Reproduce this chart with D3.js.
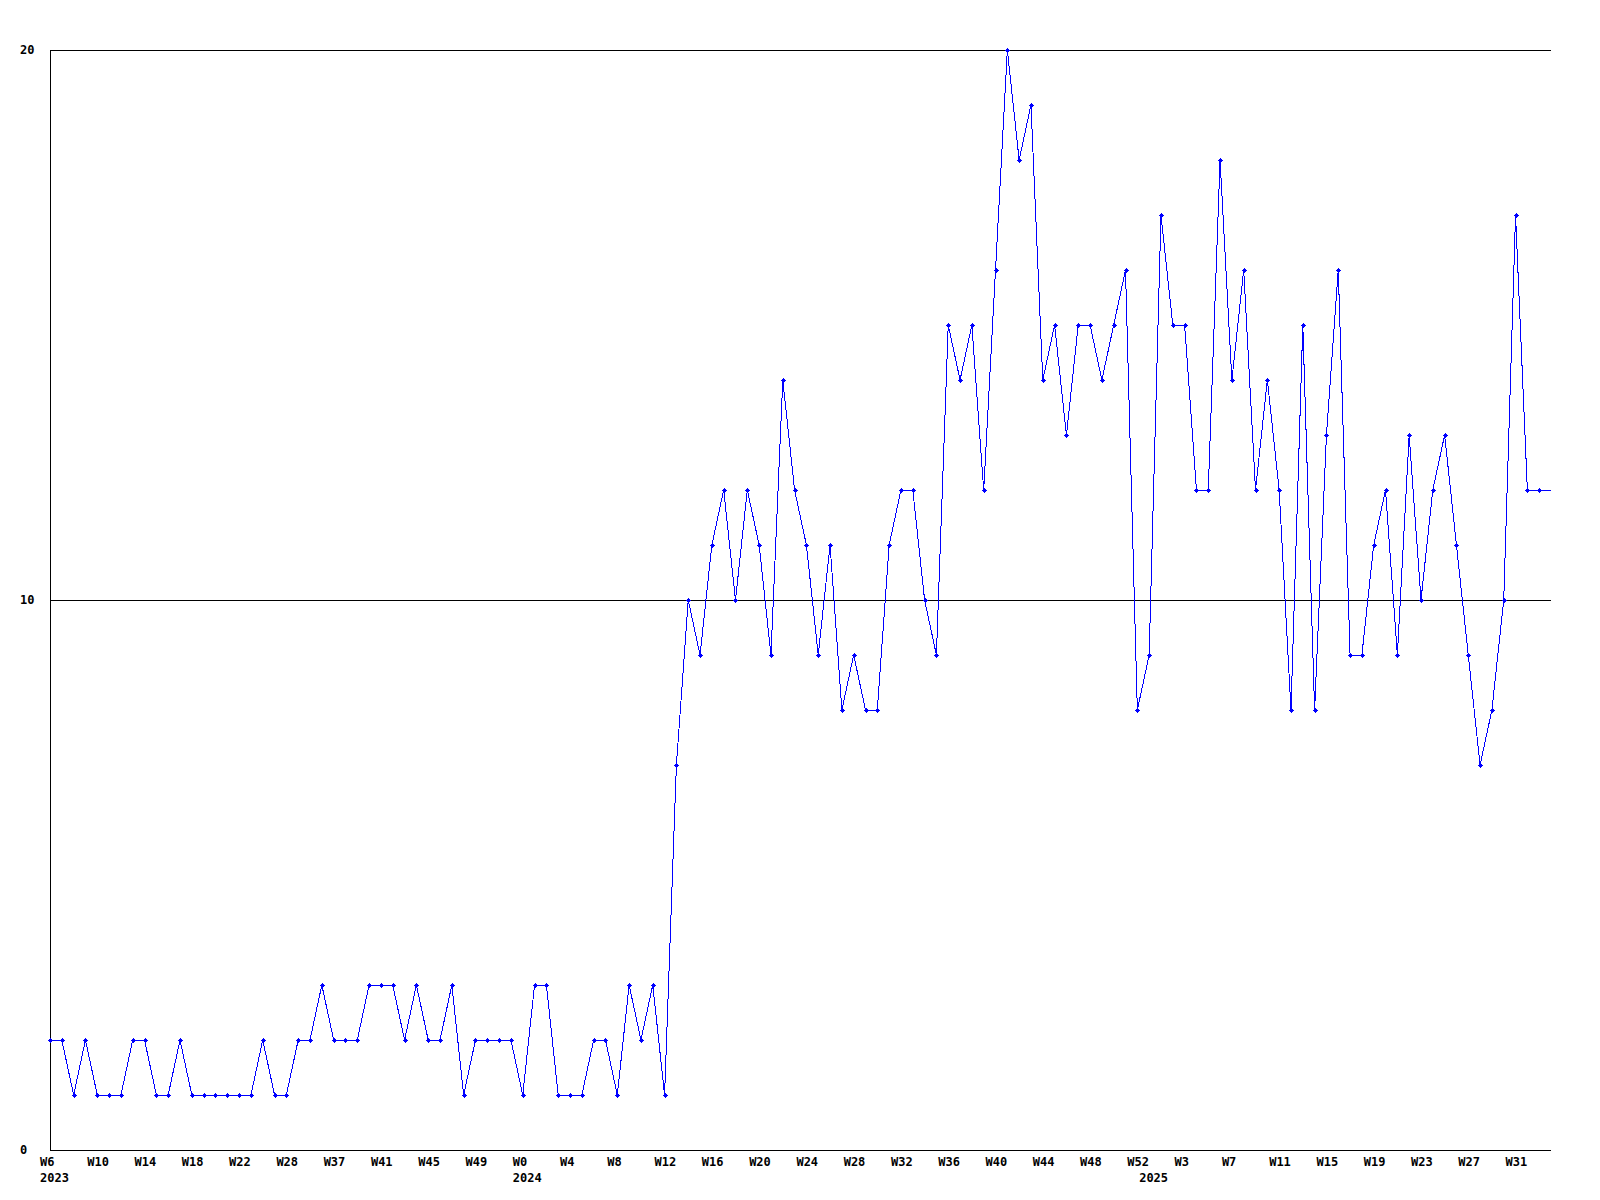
<!DOCTYPE html>
<html>
<head>
<meta charset="utf-8">
<script src="https://cdn.jsdelivr.net/npm/d3@7"></script>
<style>
  html, body { margin: 0; padding: 0; background: #ffffff; }
  svg { display: block; }
  text { font-family: "DejaVu Sans Mono", "Liberation Mono", monospace; font-weight: bold; font-size: 12px; fill: #000; }
</style>
</head>
<body>
<svg id="chart" width="1600" height="1200"></svg>
<script>
// ---- data ----
const weeks = [
  // 2023
  "W6","W7","W8","W9","W10","W11","W12","W13","W14","W15","W16","W17","W18","W19","W20","W21","W22",
  "W24","W25","W27","W28","W30","W33","W35",
  "W37","W38","W39","W40","W41","W42","W43","W44","W45","W46","W47","W48","W49","W50","W51","W52",
  // 2024
  "W0","W1","W2","W3","W4","W5","W6","W7","W8","W9","W10","W11","W12","W13","W14","W15","W16","W17",
  "W18","W19","W20","W21","W22","W23","W24","W25","W26","W27","W28","W29","W30","W31","W32","W33","W34",
  "W35","W36","W37","W38","W39","W40","W41","W42","W43","W44","W45","W46","W47","W48","W49","W50","W51","W52",
  // 2025
  "W0","W1","W2","W3","W4","W5","W6","W7","W8","W9","W10","W11","W12","W13","W14","W15","W16","W17",
  "W18","W19","W20","W21","W22","W23","W24","W25","W26","W27","W28","W29","W30","W31","W32","W33","W34"
];
const years = ["2023", "2024", "2025"];
const values = [
  2,2,1,2,1,1,1,2,2,1, 1,2,1,1,1,1,1,1,2,1, 1,2,2,3,2,2,2,3,3,3, 2,3,2,2,3,1,2,2,2,2,
  1,3,3,1,1,1,2,2,1,3, 2,3,1,
  7,10,9,11,12,10,12,11,9,14, 12,11,9,11,8,9,8,8,11,12, 12,10,9,15,14,15,12,16,20,18,
  19,14,15,13,15,15,14,15,16,8, 9,17,15,15,12,12,18,14,16,12, 14,12,8,15,8,13,16,9,9,11,
  12,9,13,10,12,13,11,9,7,8, 10,17,12,12,12
];
const yTicks = [0, 10, 20];
const tickEvery = 4;

// ---- layout ----
const plotLeft = 50, plotRight = 1551, plotTop = 50, plotBottom = 1150;
const svg = d3.select("#chart");

const x = d3.scaleLinear().domain([0, values.length - 1]).range([plotLeft, plotRight]);
const y = d3.scaleLinear().domain([0, 20]).range([plotBottom, plotTop]);

// gridlines / axes
const g = svg.append("g").attr("shape-rendering", "crispEdges");
g.selectAll("line.grid").data(yTicks).join("line")
  .attr("x1", plotLeft).attr("x2", plotRight)
  .attr("y1", d => Math.round(y(d)) + 0.5).attr("y2", d => Math.round(y(d)) + 0.5)
  .attr("stroke", "#000").attr("stroke-width", 1);
g.append("line")
  .attr("x1", plotLeft + 0.5).attr("x2", plotLeft + 0.5)
  .attr("y1", plotTop).attr("y2", plotBottom + 1)
  .attr("stroke", "#000");

// y labels
svg.selectAll("text.ylab").data(yTicks).join("text")
  .attr("class", "ylab")
  .attr("x", 20)
  .attr("y", d => y(d) + 4)
  .text(d => d);

// x labels (every 4th point)
const idx = d3.range(values.length);
svg.selectAll("text.xlab").data(idx.filter(i => i % tickEvery === 0)).join("text")
  .attr("class", "xlab")
  .attr("x", i => x(i) - 10)
  .attr("y", 1166)
  .text(i => weeks[i]);

// year labels at year starts
const wnum = w => +w.slice(1);
const yearStarts = idx.filter(i => i === 0 || wnum(weeks[i]) < wnum(weeks[i - 1]));
svg.selectAll("text.year").data(yearStarts).join("text")
  .attr("class", "year")
  .attr("x", i => x(i) - 10)
  .attr("y", 1182)
  .text((i, k) => years[k]);

// line
const line = d3.line().x((d, i) => x(i)).y(d => y(d));
svg.append("path")
  .datum(values)
  .attr("d", line)
  .attr("fill", "none")
  .attr("stroke", "#0000ff")
  .attr("stroke-width", 1)
  .attr("shape-rendering", "crispEdges");

// markers
svg.selectAll("path.mk").data(idx.slice(0, values.length - 1)).join("path")
  .attr("class", "mk")
  .attr("d", i => {
    const cx = Math.round(x(i)) + 0.5, cy = Math.round(y(values[i])) + 0.5, r = 2.5;
    return `M${cx},${cy - r}L${cx + r},${cy}L${cx},${cy + r}L${cx - r},${cy}Z`;
  })
  .attr("fill", "#0000ff")
  .attr("shape-rendering", "crispEdges");
</script>
</body>
</html>
